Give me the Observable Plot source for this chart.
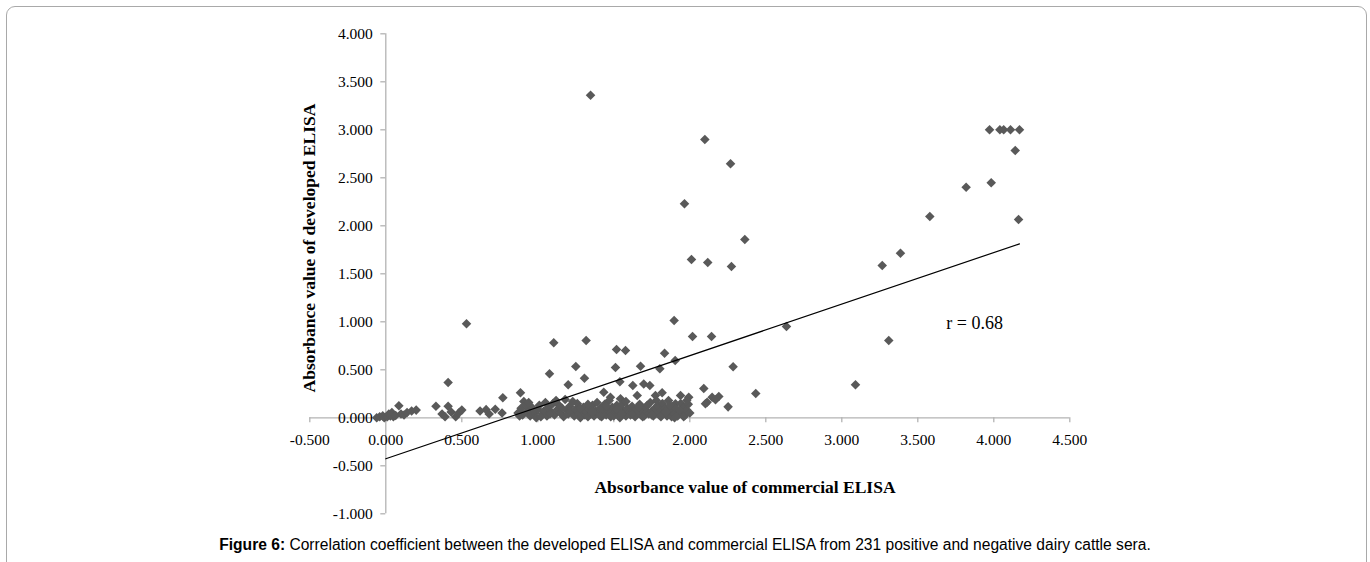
<!DOCTYPE html>
<html>
<head>
<meta charset="utf-8">
<script src="https://cdn.jsdelivr.net/npm/d3@7"></script>
<script src="https://cdn.jsdelivr.net/npm/@observablehq/plot@0.6"></script>
<style>
  body { margin: 0; background: #fff; }
  #wrap { position: relative; width: 1370px; height: 562px; overflow: hidden; background: #fff; }
  #chart { position: absolute; left: 0; top: 0; }
  #frame { position: absolute; left: 6px; top: 6px; width: 1361px; height: 620px; border: 1.5px solid #a9a9a9; border-radius: 9px; box-sizing: border-box; pointer-events: none; }
  .ttl { position: absolute; font-family: "Liberation Serif", serif; font-weight: bold; font-size: 17.5px; white-space: nowrap; color: #000; line-height: 1; }
  #xt { left: 745px; top: 488px; transform: translate(-50%, -50%); }
  #yt { left: 310px; top: 248px; transform: translate(-50%, -50%) rotate(-90deg); }
  #caption { position: absolute; left: 0; width: 1370px; top: 545px; transform: translateY(-50%); text-align: center; font-family: "Liberation Sans", Arial, sans-serif; font-size: 15.6px; color: #000; white-space: nowrap; line-height: 1; }
</style>
</head>
<body>
<div id="wrap">
  <div id="chart"></div>
  <div id="frame"></div>
  <div id="xt" class="ttl">Absorbance value of commercial ELISA</div>
  <div id="yt" class="ttl">Absorbance value of developed ELISA</div>
  <div id="caption"><b>Figure 6:</b> Correlation coefficient between the developed ELISA and commercial ELISA from 231 positive and negative dairy cattle sera.</div>
</div>
<script>
// Commercial ELISA absorbance (x) and developed ELISA absorbance (y)
const commercial = [
  // upper / scattered points
  1.347, 2.099, 1.965, 2.268, 2.362, 3.972, 4.040, 4.065, 4.110, 4.169,
  4.141, 3.818, 3.983, 3.579, 4.163, 3.386, 3.266, 2.118, 2.274, 2.011,
  2.636, 2.143, 2.018, 3.309, 2.285, 3.090, 2.092, 2.434, 2.252, 0.531,
  1.897, 1.105, 1.318, 1.518, 1.577, 1.834, 1.904, 1.676, 1.250, 1.511,
  1.803, 1.077, 1.307, 0.410, 1.540, 1.697, 1.737, 1.200, 1.625, 0.886,
  1.434, 1.818, 0.770, 0.908, 1.774, 1.654, 1.478, 1.544, 1.939, 1.993,
  2.114, 2.147, 2.191, 2.169, 2.103, 1.906,
  // low cluster near zero
  -0.06, -0.04, -0.02, -0.01, 0.01, 0.02, 0.03, 0.04, 0.05, 0.065,
  0.086, 0.10, 0.12, 0.14, 0.17, 0.20,
  0.33, 0.37, 0.39, 0.41, 0.43, 0.46, 0.48, 0.50,
  0.62, 0.66, 0.68, 0.72, 0.765,
  // dense band 0.85 - 2.0
  0.87, 0.89, 0.90, 0.92, 0.93, 0.95, 0.96, 0.98, 0.99, 1.00,
  1.01, 1.03, 1.04, 1.06, 1.07, 1.09, 1.10, 1.11, 1.13, 1.14, 1.15, 1.17, 1.18, 1.19, 1.20,
  1.21, 1.22, 1.24, 1.25, 1.26, 1.27, 1.28, 1.29, 1.30, 1.31, 1.32, 1.33, 1.34, 1.35, 1.36, 1.37, 1.38, 1.39, 1.40,
  1.41, 1.42, 1.43, 1.44, 1.45, 1.46, 1.47, 1.48, 1.49, 1.50, 1.51, 1.52, 1.53, 1.54, 1.55, 1.56, 1.57, 1.58, 1.59, 1.60,
  1.61, 1.62, 1.63, 1.64, 1.65, 1.66, 1.67, 1.68, 1.69, 1.70, 1.71, 1.72, 1.73, 1.74, 1.75, 1.76, 1.77, 1.78, 1.79, 1.80,
  1.81, 1.82, 1.83, 1.84, 1.85, 1.86, 1.87, 1.88, 1.89, 1.90, 1.91, 1.92, 1.94, 1.95, 1.96, 1.97, 1.98, 1.99, 2.00,
  0.88, 0.94, 0.97, 1.02, 1.05, 1.08, 1.12, 1.16, 1.23, 1.28, 1.33, 1.36, 1.41, 1.45, 1.48, 1.52,
  1.55, 1.58, 1.62, 1.66, 1.69, 1.72, 1.75, 1.78, 1.81, 1.84, 1.87, 1.90, 1.93, 1.96, 1.98
];
const developed = [
  3.360, 2.900, 2.229, 2.646, 1.857, 3.000, 3.000, 3.000, 3.000, 3.000,
  2.784, 2.402, 2.448, 2.097, 2.066, 1.715, 1.586, 1.618, 1.576, 1.649,
  0.951, 0.847, 0.847, 0.805, 0.531, 0.344, 0.305, 0.253, 0.114, 0.979,
  1.013, 0.781, 0.805, 0.711, 0.701, 0.673, 0.597, 0.538, 0.534, 0.524,
  0.510, 0.458, 0.413, 0.368, 0.375, 0.352, 0.336, 0.344, 0.336, 0.260,
  0.267, 0.262, 0.208, 0.170, 0.232, 0.232, 0.215, 0.198, 0.232, 0.215,
  0.163, 0.215, 0.222, 0.188, 0.146, 0.146,
  0.00, 0.01, 0.02, 0.00, 0.01, 0.04, 0.02, 0.055, 0.01, 0.025,
  0.125, 0.04, 0.03, 0.055, 0.07, 0.08,
  0.12, 0.04, 0.01, 0.12, 0.06, 0.01, 0.05, 0.08,
  0.07, 0.085, 0.04, 0.09, 0.05,
  0.05, 0.10, 0.03, 0.14, 0.07, 0.02, 0.11, 0.05, 0.00, 0.09,
  0.13, 0.04, 0.07, 0.02, 0.11, 0.06, 0.15, 0.03, 0.09, 0.13, 0.05, 0.01, 0.19, 0.08, 0.04,
  0.12, 0.06, 0.02, 0.09, 0.15, 0.04, 0.00, 0.07, 0.11, 0.03, 0.06, 0.01, 0.09, 0.04, 0.13, 0.02, 0.07, 0.16, 0.05,
  0.10, 0.01, 0.06, 0.14, 0.03, 0.08, 0.18, 0.05, 0.11, 0.02, 0.07, 0.13, 0.04, 0.00, 0.09, 0.15, 0.05, 0.02, 0.10, 0.06,
  0.03, 0.12, 0.07, 0.01, 0.09, 0.05, 0.14, 0.03, 0.08, 0.02, 0.11, 0.06, 0.04, 0.16, 0.07, 0.02, 0.10, 0.05, 0.13, 0.03,
  0.08, 0.15, 0.05, 0.10, 0.02, 0.18, 0.06, 0.01, 0.12, 0.04, 0.09, 0.02, 0.15, 0.06, 0.11, 0.03, 0.08, 0.14, 0.05,
  0.02, 0.16, 0.08, 0.01, 0.16, 0.04, 0.18, 0.10, 0.17, 0.10, 0.14, 0.06, 0.02, 0.12, 0.01, 0.09,
  0.04, 0.17, 0.04, 0.11, 0.01, 0.13, 0.03, 0.18, 0.01, 0.06, 0.13, 0.00, 0.08, 0.01, 0.18
];

// Trend line end points (as drawn in the figure)
const trendX = [0, 4.169];
const trendY = [-0.427, 1.812];

// Axis ticks
const xTicks = [-0.5, 0, 0.5, 1, 1.5, 2, 2.5, 3, 3.5, 4, 4.5];
const yTicks = [-1, -0.5, 0, 0.5, 1, 1.5, 2, 2.5, 3, 3.5, 4];

// Annotation
const rLabel = ["r = 0.68"];
const rPos = [3.874, 0.985];

const points = commercial.map((x, i) => ({x, y: developed[i]}));
const trend = trendX.map((x, i) => ({x, y: trendY[i]}));

const axisColor = "#b3b3b3";
const fmt = d3.formatLocale({decimal: ".", thousands: ",", grouping: [3], currency: ["", ""], minus: "-"}).format(".3f");
const W = 1370, H = 525;
const mL = 309.3, mR = 300.7, mT = 33.3, mB = 11.7;
const tickLenX = 5 * (5 / (W - mL - mR));  // 5px in x units
const tickLenY = 5 * (5 / (H - mT - mB));  // 5px in y units

const chart = Plot.plot({
  width: W,
  height: H,
  marginLeft: mL,
  marginRight: mR,
  marginTop: mT,
  marginBottom: mB,
  x: {domain: [-0.5, 4.5], axis: null},
  y: {domain: [-1, 4], axis: null},
  style: {background: "transparent", fontFamily: "Liberation Serif, serif", color: "#000"},
  marks: [
    Plot.ruleY([0], {stroke: axisColor, strokeWidth: 1.3}),
    Plot.ruleX([0], {stroke: axisColor, strokeWidth: 1.3}),
    Plot.ruleX(xTicks, {x: d => d, y1: 0, y2: -tickLenY, stroke: axisColor, strokeWidth: 1.3}),
    Plot.ruleY(yTicks, {y: d => d, x1: -tickLenX, x2: 0, stroke: axisColor, strokeWidth: 1.3}),
    Plot.text(xTicks, {x: d => d, y: 0, dy: 22.7, text: d => fmt(d), fontSize: 15.5, fill: "#000", textAnchor: "middle", lineAnchor: "middle"}),
    Plot.text(yTicks, {x: 0, y: d => d, dx: -13, text: d => fmt(d), fontSize: 15.5, fill: "#000", textAnchor: "end", lineAnchor: "middle"}),
    Plot.dot(points, {x: "x", y: "y", symbol: "diamond2", r: 4.3, fill: "#595959", stroke: "none"}),
    Plot.line(trend, {x: "x", y: "y", stroke: "#000", strokeWidth: 1.2}),
    Plot.text(rLabel, {x: rPos[0], y: rPos[1], text: d => d, fontSize: 18, fill: "#000", textAnchor: "middle", lineAnchor: "middle"})
  ]
});
document.getElementById("chart").appendChild(chart);
</script>
</body>
</html>
